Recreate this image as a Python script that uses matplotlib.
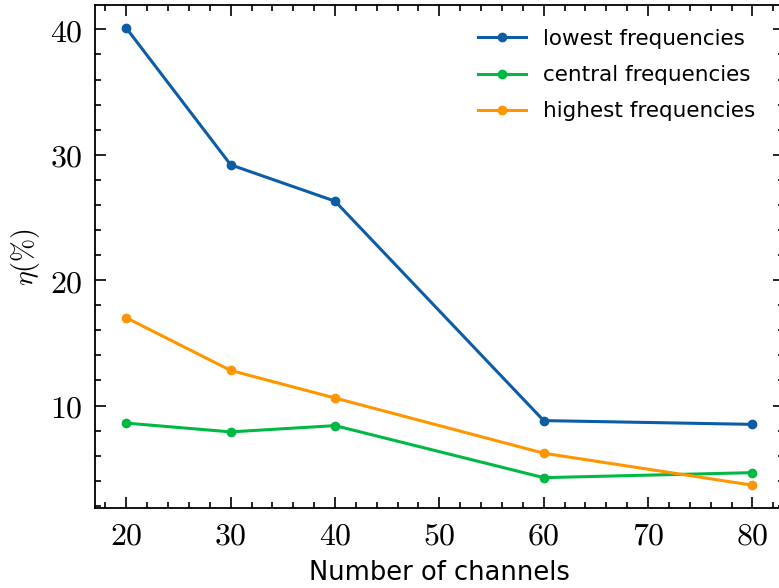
import matplotlib
matplotlib.use("Agg")
import matplotlib.pyplot as plt
from matplotlib.ticker import MultipleLocator, FuncFormatter

channels = [20, 30, 40, 60, 80]
lowest = [40.1, 29.2, 26.3, 8.8, 8.5]
central = [8.6, 7.9, 8.4, 4.25, 4.65]
highest = [17.0, 12.8, 10.6, 6.2, 3.65]

series = [
    ("lowest frequencies", lowest, "#0C5DA5"),
    ("central frequencies", central, "#00B945"),
    ("highest frequencies", highest, "#FF9500"),
]

plt.rcParams["mathtext.fontset"] = "cm"
plt.rcParams["font.family"] = ["DejaVu Sans"]

fig = plt.figure(figsize=(7.79, 5.88), dpi=100)
ax = fig.add_axes([0.122, 0.136, 0.884, 0.855])

for label, vals, color in series:
    ax.plot(channels, vals, marker="o", markersize=6, linewidth=2.2,
            color=color, label=label)

ax.xaxis.set_major_locator(MultipleLocator(10))
ax.xaxis.set_minor_locator(MultipleLocator(2))
ax.yaxis.set_major_locator(MultipleLocator(10))
ax.yaxis.set_minor_locator(MultipleLocator(2))
fmt = FuncFormatter(lambda v, p: r"$%d$" % v)
ax.xaxis.set_major_formatter(fmt)
ax.yaxis.set_major_formatter(fmt)

ax.tick_params(which="both", direction="in", top=True, right=True,
               width=1.2, labelsize=23)
ax.tick_params(which="major", length=8, pad=9)
ax.tick_params(which="minor", length=4)
for s in ax.spines.values():
    s.set_linewidth(1.3)

ax.set_xlabel("Number of channels", fontsize=18.5, labelpad=6)
ax.set_ylabel(r"$\eta(\%)$", fontsize=20, labelpad=6)

ax.legend(loc="upper right", frameon=False, fontsize=15.5,
          bbox_to_anchor=(0.993, 1.0), handlelength=2.2,
          labelspacing=0.75, borderaxespad=0.7)

fig.savefig("out.png", dpi=100)
